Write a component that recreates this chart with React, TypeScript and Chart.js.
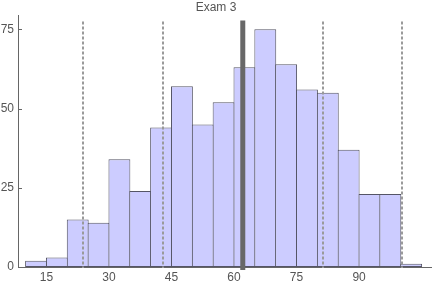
import React, { useEffect, useRef } from "react";
import { Chart, registerables } from "chart.js";

Chart.register(...registerables);

const titleText = "Exam 3";
const binStarts = [10, 15, 20, 25, 30, 35, 40, 45, 50, 55, 60, 65, 70, 75, 80, 85, 90, 95, 100];
const binWidth = 5;
const counts = [2, 3, 15, 14, 34, 24, 44, 57, 45, 52, 63, 75, 64, 56, 55, 37, 23, 23, 1];
const xTicks = [15, 30, 45, 60, 75, 90];
const yTicks = [0, 25, 50, 75];
const meanLine = 62.1;
const sdLines = [23.8, 42.9, 81.3, 100.4];
const refLineTop = 77.5;

const FONT = "'Liberation Sans', Arial, sans-serif";
const TEXT = "#555555";
const AXIS = "#666666";

const linesPlugin = {
  id: "refLines",
  afterDatasetsDraw(chart: any) {
    const { ctx, scales } = chart;
    const xs = scales.x;
    const ys = scales.y;
    const top = ys.getPixelForValue(refLineTop);
    const bottom = ys.getPixelForValue(0);
    ctx.save();
    ctx.strokeStyle = "#9a9a9a";
    ctx.lineWidth = 2;
    ctx.setLineDash([3, 2]);
    for (const v of sdLines) {
      const px = Math.round(xs.getPixelForValue(v));
      ctx.beginPath();
      ctx.moveTo(px, top);
      ctx.lineTo(px, bottom + 1);
      ctx.stroke();
    }
    ctx.setLineDash([]);
    ctx.strokeStyle = "#686868";
    ctx.lineWidth = 5;
    const mx = xs.getPixelForValue(meanLine);
    ctx.beginPath();
    ctx.moveTo(mx, top - 1);
    ctx.lineTo(mx, bottom + 3);
    ctx.stroke();
    ctx.restore();
  },
  afterDraw(chart: any) {
    const { ctx, scales, chartArea } = chart;
    const ys = scales.y;
    ctx.save();
    ctx.strokeStyle = AXIS;
    ctx.lineWidth = 1;
    for (const v of yTicks) {
      const py = Math.round(ys.getPixelForValue(v)) + 0.5;
      ctx.beginPath();
      ctx.moveTo(chartArea.left, py);
      ctx.lineTo(chartArea.left + 4, py);
      ctx.stroke();
    }
    ctx.restore();
  },
};

export default function App() {
  const ref = useRef<HTMLCanvasElement | null>(null);
  useEffect(() => {
    if (!ref.current) return;
    const data = binStarts.map((s, i) => ({ x: s + binWidth / 2, y: counts[i] }));
    const chart = new Chart(ref.current, {
      type: "bar",
      data: {
        datasets: [
          {
            data: data as any,
            backgroundColor: "#ccccff",
            borderColor: "#555566",
            borderWidth: 1,
            borderSkipped: false,
            barPercentage: 1.05,
            categoryPercentage: 1,
          },
        ],
      },
      options: {
        animation: false,
        responsive: false,
        layout: { padding: 0 },
        plugins: {
          legend: { display: false },
          tooltip: { enabled: false },
          title: {
            display: true,
            text: titleText,
            color: TEXT,
            font: { family: FONT, size: 12, weight: "normal" },
            padding: { top: 0, bottom: 1.6 },
          },
        },
        scales: {
          x: {
            type: "linear",
            min: 8.17,
            max: 107.5,
            offset: false,
            grid: { display: false, drawTicks: false },
            border: { display: true, color: AXIS, width: 1 },
            ticks: {
              color: TEXT,
              font: { family: FONT, size: 12 },
              padding: 3,
              maxRotation: 0,
            },
            afterBuildTicks: (scale: any) => {
              scale.ticks = xTicks.map((v) => ({ value: v }));
            },
            afterFit: (scale: any) => {
              scale.height = 19;
            },
          },
          y: {
            type: "linear",
            min: 0,
            max: 79.2,
            grid: { display: false, drawTicks: false },
            border: { display: true, color: AXIS, width: 1 },
            ticks: {
              color: TEXT,
              font: { family: FONT, size: 12 },
              padding: 4,
            },
            afterBuildTicks: (scale: any) => {
              scale.ticks = yTicks.map((v) => ({ value: v }));
            },
            afterFit: (scale: any) => {
              scale.width = 18;
            },
          },
        },
      },
      plugins: [linesPlugin],
    });
    return () => chart.destroy();
  }, []);
  return (
    <div style={{ position: "fixed", left: 0, top: 0, width: 432, height: 286, background: "#fff" }}>
      <canvas ref={ref} width={432} height={286} style={{ display: "block" }} />
    </div>
  );
}
